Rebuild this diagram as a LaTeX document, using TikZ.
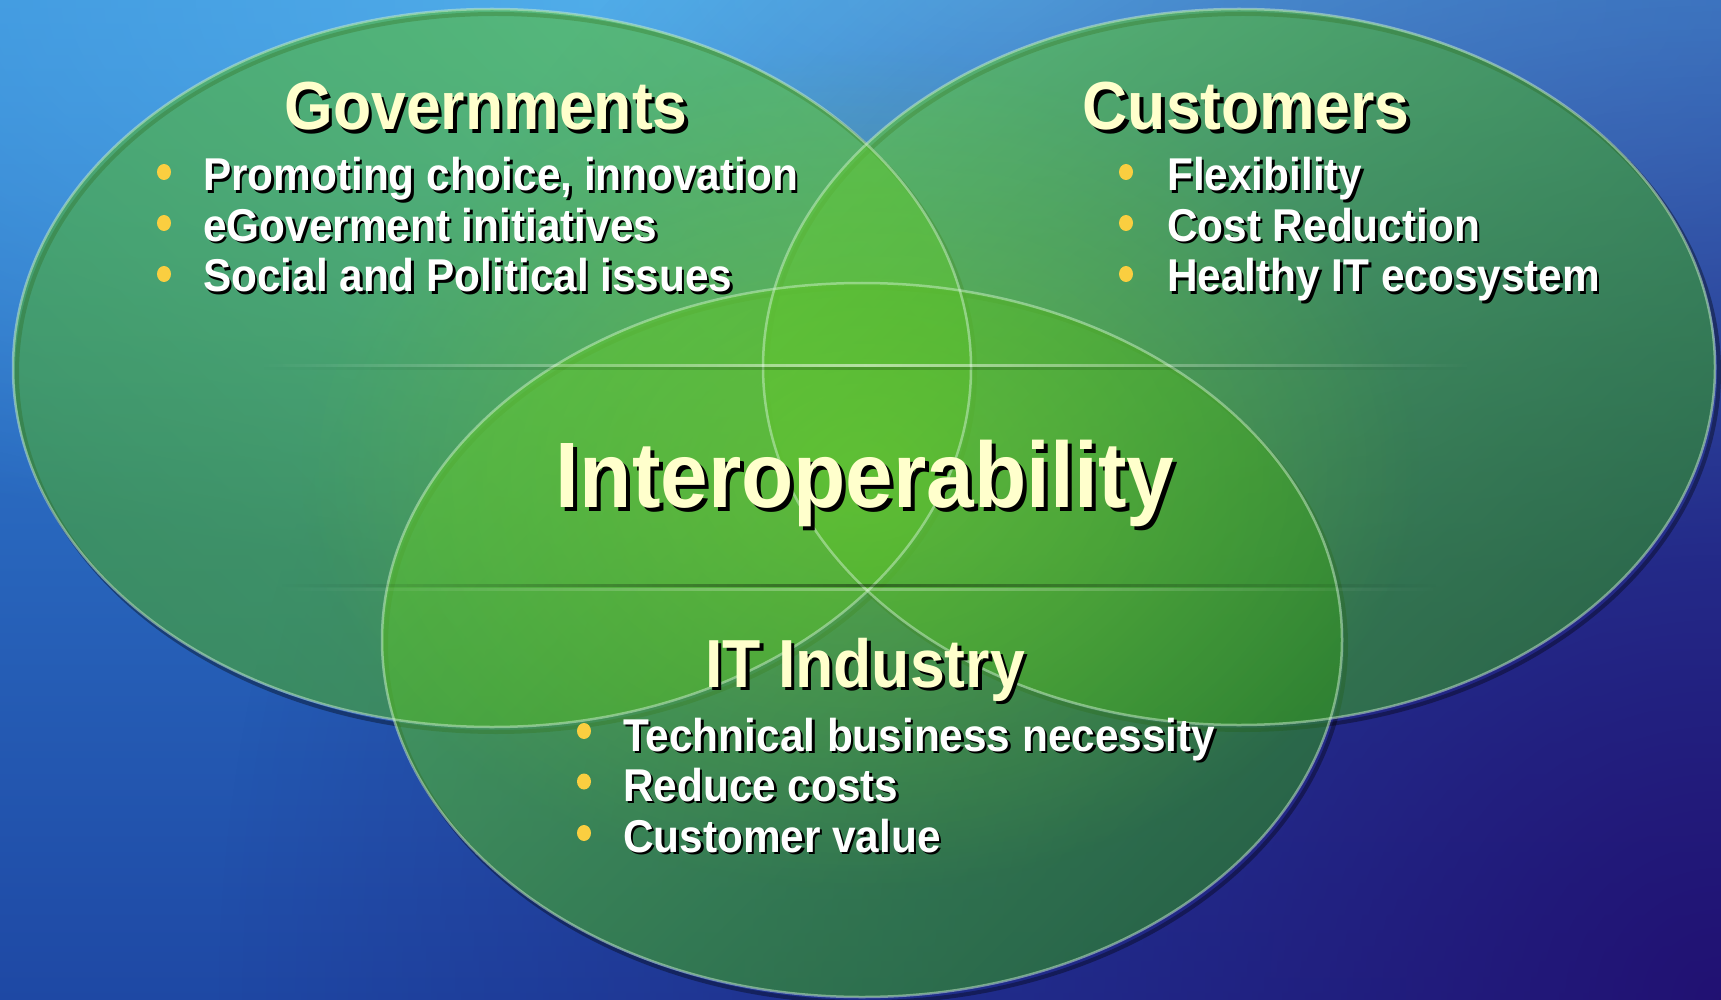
\documentclass[tikz,border=0pt]{standalone}
\usepackage{fontspec}
\setmainfont{Liberation Sans}
\newfontfamily\arl[FakeStretch=0.92]{Liberation Sans}
\usetikzlibrary{fadings}
\definecolor{bgTop}{RGB}{52,136,216}
\definecolor{bgMid}{RGB}{32,110,202}
\definecolor{bgBot}{RGB}{30,72,164}
\definecolor{bgGlow}{RGB}{92,188,240}
\definecolor{bgInd}{RGB}{34,14,112}
\definecolor{titlecol}{RGB}{255,255,204}
\definecolor{dotcol}{RGB}{250,206,64}
\definecolor{rimcol}{RGB}{205,240,205}
\definecolor{glowcol}{RGB}{120,215,50}
\definecolor{gA}{RGB}{92,194,58}
\definecolor{gB}{RGB}{72,168,52}
\definecolor{cA}{RGB}{92,194,58}
\definecolor{cB}{RGB}{52,148,42}
\definecolor{iA}{RGB}{90,192,52}
\definecolor{iB}{RGB}{46,140,36}
\tikzfading[name=radfade, inner color=transparent!0, outer color=transparent!100]
\tikzfading[name=hfade, left color=transparent!100, right color=transparent!100, middle color=transparent!0]
\tikzset{
  venn/.style={fill opacity=0.62},
  rim/.style={draw=rimcol, draw opacity=0.5, line width=2.5pt},
  shadowrim/.style={draw=black, draw opacity=0.35, line width=4pt},
  ttl/.style={font=\arl\bfseries\fontsize{68pt}{68pt}\selectfont, text=titlecol, inner sep=0pt},
  big/.style={font=\arl\bfseries\fontsize{93pt}{93pt}\selectfont, text=titlecol, inner sep=0pt},
  itm/.style={font=\arl\bfseries\fontsize{46pt}{46pt}\selectfont, text=white, inner sep=0pt},
  bdot/.style={fill=dotcol, draw=none},
}
\newcommand{\shtxt}[6]{% name, position, anchor, style, shadow offset, text
  \node[#4, anchor=#3, text=black, xshift=#5pt, yshift=-#5pt] (#1-s) at (#2) {#6};
  \node[#4, anchor=#3] (#1) at (#2) {#6};
}
\begin{document}
\begin{tikzpicture}[x=1pt,y=-1pt]
\useasboundingbox (0,0) rectangle (1721,1000);
% background
\begin{scope}
\clip (0,0) rectangle (1721,1000);
\shade[top color=bgTop, middle color=bgMid, bottom color=bgBot] (0,0) rectangle (1721,1000);
\fill[bgGlow, path fading=radfade, opacity=0.9] (1000,0) ellipse[x radius=1800pt, y radius=600pt];
\fill[bgInd, path fading=radfade, opacity=0.95] (1721,1000) circle[radius=1500pt];
\end{scope}
% ellipse centres
\coordinate (cg) at (492,368);
\coordinate (cc) at (1239,367);
\coordinate (ci) at (862,640);
% drop shadows
\draw[shadowrim] ([shift={(4,5)}]cg) ellipse[x radius=479pt, y radius=359pt];
\draw[shadowrim] ([shift={(4,5)}]cc) ellipse[x radius=476pt, y radius=358pt];
\draw[shadowrim] ([shift={(4,5)}]ci) ellipse[x radius=480pt, y radius=357pt];
% fills
\shade[venn, top color=gA, bottom color=gB, shading angle=-45] (cg) ellipse[x radius=479pt, y radius=359pt];
\shade[venn, top color=cA, bottom color=cB, shading angle=45] (cc) ellipse[x radius=476pt, y radius=358pt];
\shade[venn, top color=iA, bottom color=iB, shading angle=45] (ci) ellipse[x radius=480pt, y radius=357pt];
% central glow
\fill[glowcol, path fading=radfade, opacity=0.45] (860,470) ellipse[x radius=560pt, y radius=420pt];
% rims
\draw[rim] (cg) ellipse[x radius=479pt, y radius=359pt];
\draw[rim] (cc) ellipse[x radius=476pt, y radius=358pt];
\draw[rim] (ci) ellipse[x radius=480pt, y radius=357pt];
% glass lines
\fill[white, opacity=0.55, path fading=hfade] (260,363.5) rectangle (1470,367);
\fill[black, opacity=0.2, path fading=hfade] (260,367) rectangle (1470,370);
\fill[black, opacity=0.4, path fading=hfade] (280,584) rectangle (1440,587);
\fill[white, opacity=0.3, path fading=hfade] (280,588) rectangle (1440,590.5);
% titles
\shtxt{gov}{486,130}{base}{ttl}{3.5}{Governments}
\shtxt{cust}{1246,130}{base}{ttl}{3.5}{Customers}
\shtxt{interop}{865,507}{base}{big}{4}{Interoperability}
\shtxt{itind}{865,687}{base}{ttl}{3.5}{IT Industry}
% Governments bullets
\fill[bdot] (164,172) ellipse[x radius=7pt, y radius=8pt];
\fill[bdot] (164,223) ellipse[x radius=7pt, y radius=8pt];
\fill[bdot] (164,274) ellipse[x radius=7pt, y radius=8pt];
\shtxt{g1}{203,191}{base west}{itm}{2.5}{Promoting choice, innovation}
\shtxt{g2}{203,241.5}{base west}{itm}{2.5}{eGoverment initiatives}
\shtxt{g3}{203,292}{base west}{itm}{2.5}{Social and Political issues}
% Customers bullets
\fill[bdot] (1126,172) ellipse[x radius=7pt, y radius=8pt];
\fill[bdot] (1126,223) ellipse[x radius=7pt, y radius=8pt];
\fill[bdot] (1126,274) ellipse[x radius=7pt, y radius=8pt];
\shtxt{c1}{1167,191}{base west}{itm}{2.5}{Flexibility}
\shtxt{c2}{1167,241.5}{base west}{itm}{2.5}{Cost Reduction}
\shtxt{c3}{1167,292}{base west}{itm}{2.5}{Healthy IT ecosystem}
% IT Industry bullets
\fill[bdot] (584,731) ellipse[x radius=7pt, y radius=8pt];
\fill[bdot] (584,781.5) ellipse[x radius=7pt, y radius=8pt];
\fill[bdot] (584,833) ellipse[x radius=7pt, y radius=8pt];
\shtxt{i1}{623,751}{base west}{itm}{2.5}{Technical business necessity}
\shtxt{i2}{623,801}{base west}{itm}{2.5}{Reduce costs}
\shtxt{i3}{623,852}{base west}{itm}{2.5}{Customer value}
\end{tikzpicture}
\end{document}
